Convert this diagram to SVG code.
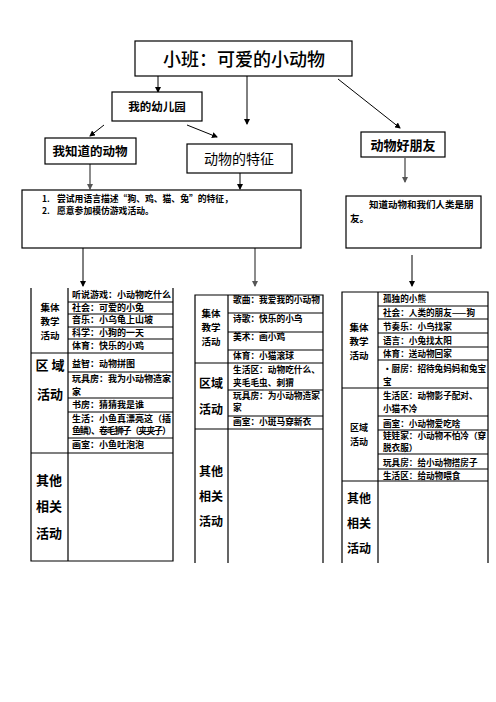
<svg xmlns="http://www.w3.org/2000/svg" width="496" height="702" viewBox="0 0 496 702">
<defs>
<marker id="ah" markerWidth="6" markerHeight="6" refX="5" refY="3" orient="auto" markerUnits="userSpaceOnUse"><path d="M0,0 L6,3 L0,6 z" fill="#000"/></marker>
<marker id="ahg" markerWidth="6" markerHeight="6" refX="5" refY="3" orient="auto" markerUnits="userSpaceOnUse"><path d="M0,0 L6,3 L0,6 z" fill="#555"/></marker>
</defs>
<style>
text{font-family:"Noto Sans CJK SC","Liberation Sans",sans-serif;fill:#000}
.box{fill:#fff;stroke:#000;stroke-width:1.2}
.b{font-weight:bold}
.t{font-size:9px;font-weight:bold}
.tm{font-size:8.7px;font-weight:bold}
.tb{font-size:8.6px;font-weight:bold}
.ln{stroke:#000;stroke-width:1.2;fill:none}
.c{stroke:#000;stroke-width:1;fill:none;marker-end:url(#ah)}
.cg{stroke:#666;stroke-width:1.5;fill:none;marker-end:url(#ahg)}
.lab{font-size:12px;font-weight:bold;text-anchor:middle}
.lab13{font-size:13px;font-weight:bold;text-anchor:middle}
.lab9{font-size:9px;font-weight:bold;text-anchor:middle}
.ls{font-size:9.5px;font-weight:bold;text-anchor:middle}
</style>
<rect width="496" height="702" fill="#fff"/>
<g id="connectors">
<line class="c" x1="158" y1="76" x2="158" y2="92"/>
<line class="c" x1="247" y1="76" x2="247" y2="124"/>
<line class="c" x1="338" y1="79" x2="400" y2="128"/>
<line class="c" x1="104" y1="125" x2="90" y2="136"/>
<line class="c" x1="187" y1="125" x2="217" y2="137"/>
<line class="cg" x1="90" y1="164" x2="90" y2="189"/>
<line class="c" x1="240" y1="173" x2="240" y2="189"/>
<line class="cg" x1="405" y1="158" x2="405" y2="182"/>
<line class="c" x1="83" y1="248" x2="83" y2="286"/>
<line class="cg" x1="255" y1="248" x2="255" y2="286"/>
<line class="c" x1="412" y1="255" x2="412" y2="286"/>
</g>
<g id="title">
<rect class="box" x="135" y="41" width="217" height="35"/>
<text x="244" y="66" font-size="18" font-weight="500" text-anchor="middle">小班：可爱的小动物</text>
</g>
<g id="kindergarten">
<rect class="box" x="112" y="92" width="90" height="29"/>
<text x="157" y="111" font-size="11.5" class="b" text-anchor="middle">我的幼儿园</text>
</g>
<g id="know-animals">
<rect class="box" x="45" y="138" width="91" height="26"/>
<text x="90" y="156" font-size="12.5" class="b" text-anchor="middle">我知道的动物</text>
</g>
<g id="features">
<rect class="box" x="187" y="144" width="105" height="29"/>
<text x="239" y="164" font-size="14" text-anchor="middle">动物的特征</text>
</g>
<g id="friends">
<rect class="box" x="361" y="132" width="84" height="25"/>
<text x="403" y="150" font-size="13" class="b" text-anchor="middle">动物好朋友</text>
</g>
<g id="goals">
<rect class="box" x="22" y="190" width="279" height="58"/>
<text x="42" y="202" font-size="8.5" class="b">1.</text>
<text x="57" y="202" font-size="8.8" class="b">尝试用语言描述“狗、鸡、猫、兔”的特征，</text>
<text x="42" y="214" font-size="8.5" class="b">2.</text>
<text x="57" y="214" font-size="8.8" class="b">愿意参加模仿游戏活动。</text>
</g>
<g id="friends-goal">
<rect class="box" x="346" y="196" width="135" height="52"/>
<text x="369" y="208" font-size="9.5" class="b">知道动物和我们人类是朋</text>
<text x="350" y="222" font-size="9.5" class="b">友。</text>
</g>
<g id="table-left">
<path class="ln" d="M31,288 V561 H173 V288 M68,288 V561 M68,302 H173 M68,314 H173 M68,327 H173 M68,339 H173 M31,353 H173 M68,372 H173 M68,398 H173 M68,412 H173 M68,438 H173 M31,453 H173"/>
<text class="ls" x="50" y="311">集体</text>
<text class="ls" x="50" y="325">教学</text>
<text class="ls" x="50" y="339">活动</text>
<text class="lab13" x="50" y="370">区 域</text>
<text class="lab13" x="50" y="399">活动</text>
<text class="lab13" x="49" y="485">其他</text>
<text class="lab13" x="49" y="511">相关</text>
<text class="lab13" x="49" y="538">活动</text>
<text class="t" x="72" y="298">听说游戏：小动物吃什么</text>
<text class="t" x="72" y="311">社会：可爱的小兔</text>
<text class="t" x="72" y="323">音乐：小乌龟上山坡</text>
<text class="t" x="72" y="336">科学：小狗的一天</text>
<text class="t" x="72" y="349">体育：快乐的小鸡</text>
<text class="t" x="72" y="367">益智：动物拼图</text>
<text class="t" x="72" y="382">玩具房：我为小动物造家</text>
<text class="t" x="72" y="395">家</text>
<text class="t" x="72" y="408">书房：猜猜我是谁</text>
<text class="t" x="72" y="422">生活：小鱼真漂亮这（插</text>
<text class="t" x="72" y="434" textLength="99">鱼鳞）、卷毛狮子（夹夹子）</text>
<text class="t" x="72" y="448">画室：小鱼吐泡泡</text>
</g>
<g id="table-middle">
<path class="ln" d="M195,563 V295 H323 V563 M228,295 V563 M228,313 H323 M228,332 H323 M228,350 H323 M195,363 H323 M228,390 H323 M228,416 H323 M195,429 H323"/>
<text class="ls" x="211" y="317">集体</text>
<text class="ls" x="211" y="331">教学</text>
<text class="ls" x="211" y="345">活动</text>
<text class="lab" x="211" y="388">区域</text>
<text class="lab" x="211" y="414">活动</text>
<text class="lab" x="211" y="476">其他</text>
<text class="lab" x="211" y="501">相关</text>
<text class="lab" x="211" y="526">活动</text>
<text class="tm" x="233" y="303">歌曲：我爱我的小动物</text>
<text class="tm" x="233" y="322">诗歌：快乐的小鸟</text>
<text class="tm" x="233" y="340">美术：画小鸡</text>
<text class="tm" x="233" y="359">体育：小猫滚球</text>
<text class="tm" x="233" y="373">生活区：动物吃什么、</text>
<text class="tm" x="233" y="386">夹毛毛虫、刺猬</text>
<text class="tm" x="233" y="399">玩具房：为小动物造家</text>
<text class="tm" x="233" y="411">家</text>
<text class="tm" x="233" y="425">画室：小斑马穿新衣</text>
</g>
<g id="table-right">
<path class="ln" d="M342,563 V292 H488 V563 M378,292 V563 M378,306 H488 M378,319 H488 M378,333 H488 M378,347 H488 M378,360 H488 M342,388 H488 M378,416 H488 M378,430 H488 M378,454 H488 M378,469 H488 M342,481 H488"/>
<text class="ls" x="359" y="331">集体</text>
<text class="ls" x="359" y="345">教学</text>
<text class="ls" x="359" y="359">活动</text>
<text class="lab9" x="359" y="431">区域</text>
<text class="lab9" x="359" y="445">活动</text>
<text class="lab" x="359" y="503">其他</text>
<text class="lab" x="359" y="528">相关</text>
<text class="lab" x="359" y="553">活动</text>
<text class="tb" x="383" y="302">孤独的小熊</text>
<text class="tb" x="383" y="316">社会：人类的朋友——狗</text>
<text class="tb" x="383" y="330">节奏乐：小鸟找家</text>
<text class="tb" x="383" y="344">语言：小兔找太阳</text>
<text class="tb" x="383" y="357">体育：送动物回家</text>
<text class="tb" x="383" y="372">·厨房：招待兔妈妈和兔宝</text>
<text class="tb" x="383" y="385">宝</text>
<text class="tb" x="383" y="399">生活区：动物影子配对、</text>
<text class="tb" x="383" y="412">小猫不冷</text>
<text class="tb" x="383" y="427">画室：小动物爱吃啥</text>
<text class="tb" x="383" y="439">娃娃家：小动物不怕冷（穿</text>
<text class="tb" x="383" y="451">脱衣服）</text>
<text class="tb" x="383" y="466">玩具房：给小动物搭房子</text>
<text class="tb" x="383" y="479">生活区：给动物喂食</text>
</g>
</svg>
